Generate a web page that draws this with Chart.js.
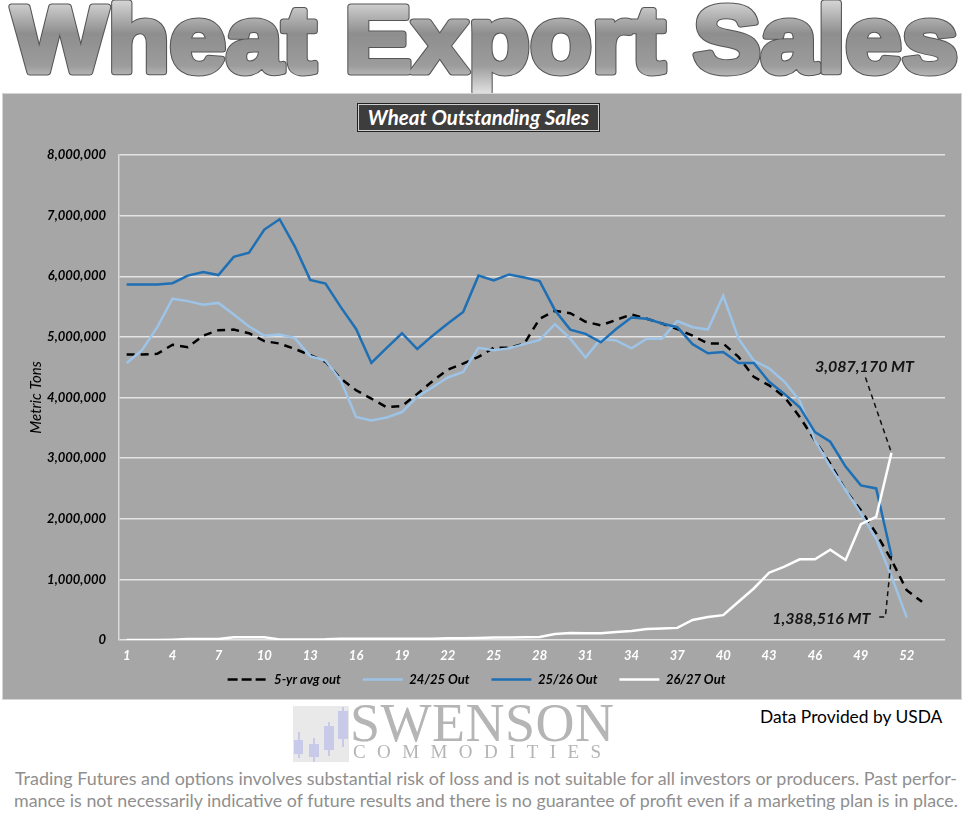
<!DOCTYPE html>
<html>
<head>
<meta charset="utf-8">
<script src="https://cdn.jsdelivr.net/npm/chart.js@4.4.1/dist/chart.umd.min.js"></script>
<style>
body{margin:0;background:#fff;width:972px;height:836px;position:relative;overflow:hidden;font-family:Lato,"Liberation Sans",sans-serif;}
#banner{position:absolute;left:0;top:0;}
#panel{position:absolute;left:2px;top:93px;width:958px;height:605px;background:#a6a6a6;border:1px solid #d4d4d4;}
#chart{position:absolute;left:-1px;top:-1px;}
#boxTitle{position:absolute;left:355px;top:10px;width:239px;height:25px;background:#3d3d3d;border:1px solid #cfcfcf;outline:1px solid #222;color:#fff;font:italic bold 20.5px Lato,sans-serif;text-align:center;line-height:25px;}
#usda{position:absolute;left:760px;top:706px;font-size:17.4px;color:#000;}
#logo{position:absolute;left:293px;top:706px;width:56px;height:56px;background:#e9e9e9;}
.cdl{position:absolute;background:#c9c9ea;}
.wick{position:absolute;width:2px;background:#c9c9ea;}
#swenson{position:absolute;left:350px;top:692px;font:54px "Liberation Serif",serif;color:#b5b5b5;letter-spacing:0.5px;}
#commod{position:absolute;left:353px;top:741px;font:19px "Liberation Serif",serif;color:#b5b5b5;letter-spacing:11.4px;}
#disc{position:absolute;left:0;top:764px;}
</style>
</head>
<body>
<svg id="banner" width="972" height="93">
<defs>
<linearGradient id="g" x1="0" y1="0" x2="0" y2="1">
<stop offset="0" stop-color="#f4f4f4"/>
<stop offset="0.45" stop-color="#8e8e8e"/>
<stop offset="0.75" stop-color="#9c9c9c"/>
<stop offset="1" stop-color="#dedede"/>
</linearGradient>
</defs>
<text x="12" y="72" font-family="Liberation Sans" font-weight="bold" font-size="95" textLength="946" lengthAdjust="spacingAndGlyphs" fill="none" stroke="#555" stroke-width="7" stroke-linejoin="round">Wheat Export Sales</text>
<text x="12" y="72" font-family="Liberation Sans" font-weight="bold" font-size="95" textLength="946" lengthAdjust="spacingAndGlyphs" fill="url(#g)" stroke="url(#g)" stroke-width="5" stroke-linejoin="round">Wheat Export Sales</text>
</svg>

<div id="panel">
<canvas id="chart" width="960" height="607"></canvas>
<div id="boxTitle">Wheat Outstanding Sales</div>
</div>

<div id="logo">
<div class="wick" style="left:5px;top:26px;height:26px"></div>
<div class="cdl" style="left:1px;top:34px;width:9px;height:14px"></div>
<div class="wick" style="left:20px;top:32px;height:24px"></div>
<div class="cdl" style="left:16px;top:38px;width:10px;height:13px"></div>
<div class="wick" style="left:35px;top:16px;height:34px"></div>
<div class="cdl" style="left:31px;top:20px;width:10px;height:24px"></div>
<div class="wick" style="left:49px;top:1px;height:40px"></div>
<div class="cdl" style="left:45px;top:5px;width:10px;height:28px"></div>
</div>
<div id="swenson">SWENSON</div>
<div id="commod">COMMODITIES</div>
<div id="usda">Data Provided by USDA</div>

<svg id="disc" width="972" height="50">
<text x="486" y="21" text-anchor="middle" font-family="Lato" font-size="16.5" fill="#8f8f8f" textLength="942" lengthAdjust="spacingAndGlyphs">Trading Futures and options involves substantial risk of loss and is not suitable for all investors or producers. Past perfor-</text>
<text x="486" y="43" text-anchor="middle" font-family="Lato" font-size="16.5" fill="#8f8f8f" textLength="944" lengthAdjust="spacingAndGlyphs">mance is not necessarily indicative of future results and there is no guarantee of profit even if a marketing plan is in place.</text>
</svg>

<script>
// week categories (54 slots, data runs to week 53)
const weeks = ["1","2","3","4","5","6","7","8","9","10","11","12","13","14","15","16","17","18","19","20",
"21","22","23","24","25","26","27","28","29","30","31","32","33","34","35","36","37","38","39","40",
"41","42","43","44","45","46","47","48","49","50","51","52","53","54"];

const avg5yr = [4710000,4710000,4720000,4870000,4830000,5020000,5110000,5120000,5060000,4930000,
4890000,4800000,4700000,4590000,4310000,4120000,3980000,3840000,3860000,4060000,
4270000,4460000,4560000,4670000,4820000,4820000,4890000,5300000,5430000,5390000,
5250000,5190000,5280000,5370000,5300000,5220000,5130000,5020000,4890000,4890000,
4670000,4340000,4200000,4010000,3680000,3290000,2910000,2470000,2140000,1760000,
1320000,820000,630000];

const out2425 = [4570000,4780000,5160000,5630000,5590000,5530000,5560000,5370000,5170000,5020000,
5040000,4980000,4680000,4610000,4280000,3680000,3620000,3670000,3760000,4010000,
4170000,4330000,4420000,4820000,4780000,4810000,4880000,4950000,5210000,4970000,
4660000,4970000,4940000,4810000,4970000,4970000,5260000,5160000,5120000,5680000,
4970000,4610000,4480000,4260000,3950000,3290000,2860000,2470000,2090000,1670000,
1050000,370000];

const out2526 = [5865000,5865000,5865000,5886000,6010000,6070000,6020000,6320000,6390000,6770000,
6940000,6490000,5940000,5880000,5490000,5130000,4570000,4820000,5060000,4800000,
5020000,5220000,5410000,6010000,5930000,6030000,5980000,5920000,5440000,5120000,
5050000,4910000,5130000,5320000,5300000,5220000,5160000,4880000,4730000,4750000,
4570000,4570000,4260000,4060000,3840000,3430000,3270000,2860000,2550000,2500000,
1388516];

const out2627 = [0,0,0,5000,15000,15000,15000,45000,45000,45000,
10000,10000,10000,12000,20000,20000,20000,20000,20000,20000,
20000,30000,30000,35000,40000,40000,45000,50000,100000,115000,
110000,110000,130000,150000,180000,190000,200000,330000,380000,410000,
630000,850000,1110000,1210000,1330000,1330000,1490000,1320000,1910000,2030000,
3087170];

const yTicks = [0,1000000,2000000,3000000,4000000,5000000,6000000,7000000,8000000];

function fmt(v){
return v.toLocaleString("en-US");
}

// callout labels with dashed leaders, placed in data units
const notes = [
{text: fmt(out2627[out2627.length-1]) + " MT", at:[45, 4500000], path:[[48.3,4330000],[50,out2627[out2627.length-1]]]},
{text: fmt(out2526[out2526.length-1]) + " MT", at:[42.2, 350000], path:[[49.2,380000],[49.6,380000],[50,out2526[out2526.length-1]]]}
];

const notePlugin = {
id:"notes",
afterDatasetsDraw(chart){
const ctx = chart.ctx;
const x = chart.scales.x, y = chart.scales.y;
ctx.save();
ctx.strokeStyle = "#111";
ctx.lineWidth = 1.5;
ctx.setLineDash([5,4]);
notes.forEach(n=>{
ctx.beginPath();
n.path.forEach((p,i)=>{
const px = x.getPixelForValue(p[0]), py = y.getPixelForValue(p[1]);
if(i===0) ctx.moveTo(px,py); else ctx.lineTo(px,py);
});
ctx.stroke();
});
ctx.setLineDash([]);
ctx.font = "italic bold 16px Lato";
ctx.fillStyle = "#141414";
ctx.textBaseline = "middle";
notes.forEach(n=>{
ctx.fillText(n.text, x.getPixelForValue(n.at[0]), y.getPixelForValue(n.at[1]));
});
ctx.restore();
}
};

Chart.defaults.font.family = "Lato";

const legendGap = "\u2003\u2002";

new Chart(document.getElementById("chart"),{
type:"line",
data:{
labels:weeks,
datasets:[
{label:"5-yr avg out", data:avg5yr, borderColor:"#000", backgroundColor:"transparent", borderWidth:2.5, borderDash:[8,6], order:3},
{label:"24/25 Out", data:out2425, borderColor:"#9dc3e6", backgroundColor:"transparent", borderWidth:2.5, order:2},
{label:"25/26 Out", data:out2526, borderColor:"#1f6fb4", backgroundColor:"transparent", borderWidth:2.5, order:1},
{label:"26/27 Out", data:out2627, borderColor:"#ffffff", backgroundColor:"transparent", borderWidth:2.5, order:0}
]
},
options:{
responsive:false,
animation:false,
elements:{point:{radius:0}, line:{tension:0, fill:false}},
layout:{padding:{left:21, right:17, top:62, bottom:4}},
plugins:{
tooltip:{enabled:false},
legend:{
position:"bottom",
labels:{
boxWidth:40,
boxHeight:0,
padding:7,
color:"#000",
font:{size:13, style:"italic", weight:"bold"},
sort:(a,b)=>a.datasetIndex-b.datasetIndex,
generateLabels:chart=>Chart.defaults.plugins.legend.labels.generateLabels(chart).map(l=>{
l.text = l.text + legendGap;
return l;
})
}
}
},
scales:{
x:{
offset:true,
grid:{display:false, drawTicks:false},
border:{display:false},
afterFit:s=>{ s.height = 26; },
ticks:{
autoSkip:false, maxRotation:0, padding:8, color:"#fff",
font:{size:13, style:"italic", weight:"bold"},
callback:function(v,i){ return i%3===0 ? weeks[i] : ""; }
}
},
y:{
min:0, max:8000000,
afterFit:s=>{ s.width = 96; },
afterBuildTicks:s=>{ s.ticks = yTicks.map(v=>({value:v})); },
grid:{color:"#e4e4e4", lineWidth:1.5, drawTicks:false},
border:{display:true, color:"#dadada", width:1.5},
ticks:{padding:13, color:"#000", font:{size:13, style:"italic", weight:"bold"}, callback:v=>fmt(v)},
title:{display:true, text:"Metric Tons", color:"#000", font:{size:15, style:"italic"}}
}
}
},
plugins:[notePlugin]
});
</script>
</body>
</html>
